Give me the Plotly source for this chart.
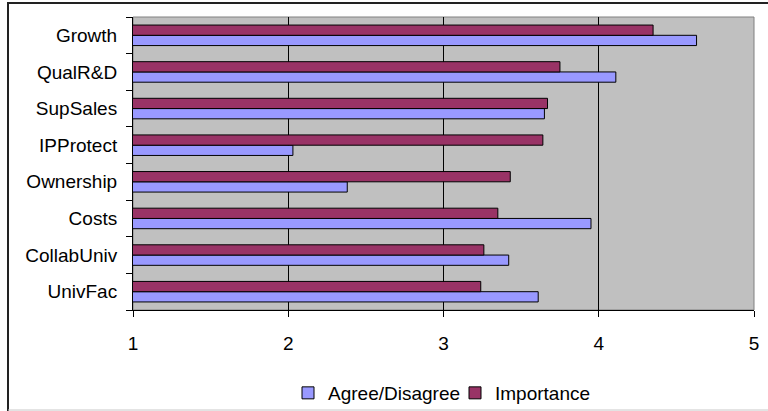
import plotly.graph_objects as go

# Survey factors, listed top to bottom
factors = ["Growth", "QualR&D", "SupSales", "IPProtect",
           "Ownership", "Costs", "CollabUniv", "UnivFac"]

# Mean scores on a 1-5 scale
agree_disagree = [4.63, 4.11, 3.65, 2.03, 2.38, 3.95, 3.42, 3.61]
importance = [4.35, 3.75, 3.67, 3.64, 3.43, 3.35, 3.26, 3.24]

x_ticks = [1, 2, 3, 4, 5]

FONT = "Liberation Sans, Arial, sans-serif"
W, H = 768, 411
L, R, T, B = 133, 14, 17, 101
PW, PH = W - L - R, H - T - B


def px_x(v):
    return (v - L) / PW


def px_y(v):
    return (H - B - v) / PH


fig = go.Figure()
fig.add_trace(go.Bar(
    y=factors, x=agree_disagree, orientation="h", name="Agree/Disagree",
    base=0, marker=dict(color="#9999FF", line=dict(color="#000000", width=1)),
))
fig.add_trace(go.Bar(
    y=factors, x=importance, orientation="h", name="Importance",
    base=0, marker=dict(color="#993366", line=dict(color="#000000", width=1)),
))

shapes = [
    # plot area frame
    dict(type="rect", xref="paper", yref="paper", x0=0, x1=1, y0=0, y1=1,
         line=dict(color="#808080", width=1), layer="below"),
    # chart frame edges
    dict(type="line", xref="paper", yref="paper",
         x0=px_x(8), x1=px_x(8), y0=px_y(2), y1=px_y(411),
         line=dict(color="#222222", width=2)),
    dict(type="line", xref="paper", yref="paper",
         x0=px_x(7), x1=px_x(790), y0=px_y(3), y1=px_y(3),
         line=dict(color="#222222", width=2)),
    dict(type="line", xref="paper", yref="paper",
         x0=px_x(8), x1=px_x(790), y0=px_y(410), y1=px_y(410),
         line=dict(color="#C8C8C8", width=1)),
]

fig.update_layout(
    width=W, height=H,
    margin=dict(l=L, r=R, t=T, b=B, pad=0, autoexpand=False),
    paper_bgcolor="#FFFFFF",
    plot_bgcolor="#C0C0C0",
    barmode="group",
    bargap=0.44,
    bargroupgap=0,
    font=dict(family=FONT, size=19, color="#000000"),
    showlegend=True,
    legend=dict(orientation="h", x=px_x(288), xanchor="left",
                y=px_y(393), yanchor="middle",
                font=dict(family=FONT, size=19, color="#000000"),
                bgcolor="rgba(0,0,0,0)", itemwidth=30,
                entrywidth=122, entrywidthmode="pixels"),
    shapes=shapes,
)

fig.update_xaxes(
    range=[1, 5], tickvals=x_ticks, ticktext=[str(t) for t in x_ticks],
    showgrid=True, gridcolor="#000000", gridwidth=1,
    zeroline=False, showline=True, linecolor="#000000", linewidth=1,
    ticks="outside", ticklen=6, tickcolor="#000000",
    ticklabelstandoff=10,
)
fig.update_yaxes(
    categoryorder="array", categoryarray=factors[::-1],
    showgrid=False, zeroline=False,
    showline=True, linecolor="#000000", linewidth=1,
    ticks="outside", ticklen=6, tickcolor="#000000",
    tickson="boundaries", ticklabelstandoff=11,
)

fig.write_html("out.html")
